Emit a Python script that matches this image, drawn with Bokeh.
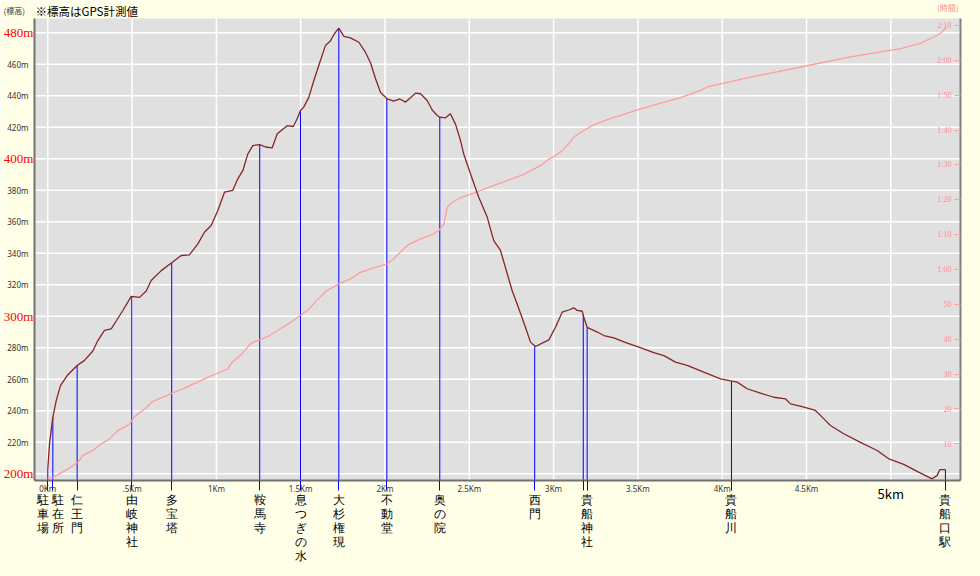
from bokeh.plotting import figure
from bokeh.models import Range1d, LinearAxis, FixedTicker, ColumnDataSource, LabelSet, Label, BoxAnnotation
from bokeh.embed import file_html
from bokeh.resources import INLINE

# ---------------- data ----------------
elev_km = [0.000, 0.010, 0.030, 0.050, 0.075, 0.115, 0.174, 0.218, 0.267, 0.297,
           0.336, 0.376, 0.406, 0.445, 0.495, 0.544, 0.584, 0.613, 0.673, 0.735,
           0.791, 0.840, 0.890, 0.929, 0.969, 1.008, 1.048, 1.097, 1.127, 1.157,
           1.186, 1.216, 1.257, 1.291, 1.331, 1.361, 1.420, 1.456, 1.479, 1.499,
           1.518, 1.548, 1.578, 1.617, 1.647, 1.677, 1.700, 1.726, 1.756, 1.795,
           1.845, 1.884, 1.914, 1.944, 1.973, 2.013, 2.052, 2.088, 2.122, 2.151,
           2.181, 2.211, 2.250, 2.280, 2.310, 2.325, 2.359, 2.388, 2.418, 2.448,
           2.467, 2.507, 2.556, 2.606, 2.645, 2.685, 2.725, 2.754, 2.794, 2.833,
           2.863, 2.893, 2.932, 2.972, 3.011, 3.051, 3.090, 3.120, 3.140, 3.170,
           3.179, 3.199, 3.259, 3.298, 3.357, 3.437, 3.506, 3.594, 3.654, 3.723,
           3.792, 3.891, 3.990, 4.059, 4.089, 4.148, 4.227, 4.306, 4.375, 4.405,
           4.474, 4.553, 4.593, 4.642, 4.721, 4.820, 4.919, 4.988, 5.077, 5.156,
           5.245, 5.275, 5.291, 5.324]
elev_m = [203.0, 219.0, 236.0, 246.5, 256.0, 262.4, 268.8, 272.0, 278.0, 284.6,
          291.0, 292.0, 297.0, 303.7, 312.6, 312.0, 316.0, 322.7, 329.0, 334.0,
          338.6, 339.0, 346.0, 353.4, 357.6, 367.0, 378.8, 380.0, 387.3, 392.6,
          403.0, 408.4, 409.0, 407.5, 407.0, 415.9, 421.0, 420.5, 425.4, 430.7,
          432.8, 439.0, 449.7, 462.4, 472.0, 475.0, 479.4, 483.0, 477.7, 476.8,
          474.0, 467.7, 461.0, 450.8, 442.3, 438.0, 436.6, 438.0, 436.0, 438.7,
          441.7, 441.3, 437.0, 431.0, 427.5, 426.4, 426.0, 428.6, 422.0, 411.6,
          403.0, 390.5, 375.6, 363.0, 348.0, 341.8, 327.0, 316.4, 304.8, 293.0,
          283.6, 280.8, 283.0, 285.0, 293.0, 302.6, 304.0, 305.4, 303.7, 303.2,
          299.4, 293.0, 290.0, 287.8, 286.3, 283.0, 280.4, 277.0, 275.0, 270.9,
          268.8, 264.5, 260.3, 258.8, 258.2, 254.0, 251.2, 248.6, 247.6, 244.4,
          242.7, 240.2, 236.0, 230.7, 225.4, 220.0, 214.8, 209.5, 206.0, 201.5,
          196.8, 199.0, 202.7, 202.7]

time_km = [0.000, 0.040, 0.119, 0.178, 0.208, 0.267, 0.317, 0.366, 0.415, 0.455,
           0.485, 0.514, 0.574, 0.623, 0.682, 0.751, 0.821, 0.910, 0.999, 1.068,
           1.088, 1.147, 1.206, 1.256, 1.305, 1.345, 1.440, 1.499, 1.546, 1.598,
           1.657, 1.726, 1.795, 1.855, 1.934, 2.013, 2.052, 2.102, 2.141, 2.211,
           2.280, 2.319, 2.349, 2.369, 2.399, 2.448, 2.527, 2.626, 2.725, 2.823,
           2.922, 2.962, 3.011, 3.051, 3.090, 3.120, 3.179, 3.238, 3.318, 3.416,
           3.515, 3.753, 3.871, 3.919, 4.168, 4.465, 4.761, 5.058, 5.176, 5.255,
           5.295, 5.330]
time_min = [0.0, 0.6, 2.8, 4.7, 6.7, 8.1, 10.0, 11.4, 13.8, 14.8,
            15.7, 17.8, 20.0, 22.2, 23.4, 24.8, 26.2, 28.2, 30.1, 31.5,
            33.1, 35.6, 38.9, 39.8, 40.8, 42.0, 44.8, 46.9, 48.5, 51.3,
            54.0, 55.9, 57.3, 59.2, 60.5, 61.6, 63.1, 65.5, 67.2, 68.8,
            70.0, 71.2, 73.1, 77.9, 79.3, 80.6, 81.9, 83.8, 85.5, 87.3,
            89.8, 91.3, 92.7, 94.1, 96.1, 98.0, 99.9, 101.5, 103.0, 104.5,
            106.1, 109.3, 111.4, 112.5, 115.2, 118.1, 121.0, 123.4, 124.9, 126.7,
            127.8, 129.5]

# vertical marker lines (position along route, elevation at top of line)
line_km = [0.000, 0.030, 0.174, 0.498, 0.735, 1.257, 1.499, 1.726, 2.011, 2.325,
           2.888, 3.176, 3.199, 4.055, 5.324]
line_top = [203.0, 236.0, 268.8, 312.5, 334.0, 409.0, 430.7, 483.0, 438.0, 426.4,
            280.8, 301.0, 293.0, 258.8, 202.7]

# place names
place_names = ["駐車場", "駐在所", "仁王門", "由岐神社", "多宝塔", "鞍馬寺", "息つぎの水",
               "大杉権現", "不動堂", "奥の院", "西門", "貴船神社", "貴船川", "貴船口駅"]
place_km = [0.000, 0.030, 0.174, 0.498, 0.735, 1.257, 1.499, 1.726, 2.011, 2.325,
            2.888, 3.199, 4.055, 5.324]
place_dx = [-5, 5, 0, 0, 0, 0, 0, 0, 0, 0, 0, 0, 0, 0]

elev_ticks = [200, 220, 240, 260, 280, 300, 320, 340, 360, 380, 400, 420, 440, 460, 480]
elev_tick_labels = ["200m", "220m", "240m", "260m", "280m", "300m", "320m", "340m",
                    "360m", "380m", "400m", "420m", "440m", "460m", "480m"]
elev_big = [200, 300, 400, 480]

km_ticks = [0.0, 0.5, 1.0, 1.5, 2.0, 2.5, 3.0, 3.5, 4.0, 4.5, 5.0]
km_tick_labels = ["0Km", ".5Km", "1Km", "1.5Km", "2Km", "2.5Km", "3Km", "3.5Km",
                  "4Km", "4.5Km", "5km"]

time_ticks = [10, 20, 30, 40, 50, 60, 70, 80, 90, 100, 110, 120, 130]
time_tick_labels = ["10", "20", "30", "40", "50", "1:00", "1:10", "1:20", "1:30",
                    "1:40", "1:50", "2:00", "2:10"]

# ---------------- layout / styling ----------------
BG = "#FFFFE8"
PLOT_BG = "#E0E0E0"
ELEV_COLOR = "#862626"
TIME_COLOR = "#FF9C9C"
MARK_COLOR = "#0000FF"
AXIS_COLOR = "#707070"
JP = "Noto Sans CJK JP"

# plotting area (data units) and full canvas extents
X0, X1 = -0.079, 5.413          # km at plot-area left/right edges
Y0, Y1 = 195.75, 489.1          # m at plot-area bottom/top edges
T0, T1 = -0.52, 132.0           # minutes at plot-area bottom/top edges
CX0, CX1 = -0.2805, 5.532       # km at canvas left/right
CY0, CY1 = 134.79, 500.51       # m at canvas bottom/top
CT0, CT1 = -28.06, 137.18       # minutes at canvas bottom/top

p = figure(width=980, height=576, output_backend="svg", toolbar_location=None,
           x_range=Range1d(CX0, CX1), y_range=Range1d(CY0, CY1),
           background_fill_color=BG, border_fill_color=BG, outline_line_color=None,
           min_border=0)
p.extra_y_ranges = {"time": Range1d(CT0, CT1)}
p.grid.visible = False

# plot area background
p.add_layout(BoxAnnotation(left=X0, right=X1, bottom=Y0, top=Y1, fill_color=PLOT_BG,
                           fill_alpha=1.0, line_color=None, level="image"))

# grid lines (from tick lists)
p.segment(x0=km_ticks, y0=[Y0] * len(km_ticks), x1=km_ticks, y1=[Y1] * len(km_ticks),
          line_color="white", line_width=1.5)
p.segment(x0=[X0] * len(elev_ticks), y0=elev_ticks, x1=[X1] * len(elev_ticks), y1=elev_ticks,
          line_color="white", line_width=1.5)

# bottom axis: km ticks + landmark stubs as minor ticks
xax = p.xaxis[0]
xax.fixed_location = Y0
xax.bounds = (X0, X1)
xax.ticker = FixedTicker(ticks=km_ticks, minor_ticks=line_km)
xax.major_label_overrides = {k: (lab if k != 5.0 else "") for k, lab in zip(km_ticks, km_tick_labels)}
xax.major_tick_line_color = None
xax.major_tick_in = 0
xax.major_tick_out = 0
xax.minor_tick_line_color = MARK_COLOR
xax.minor_tick_in = 0
xax.minor_tick_out = 10
xax.axis_line_color = AXIS_COLOR
xax.axis_line_width = 2
xax.major_label_text_font = "Noto Sans"
xax.major_label_text_font_size = "8px"
xax.major_label_text_color = "#333333"
xax.major_label_standoff = -7

# left axis
yax = p.yaxis[0]
yax.fixed_location = X0
yax.bounds = (Y0, Y1)
yax.ticker = FixedTicker(ticks=elev_ticks)
yax.major_label_overrides = {t: ("" if t in elev_big else lab) for t, lab in zip(elev_ticks, elev_tick_labels)}
yax.major_tick_line_color = None
yax.major_tick_in = 0
yax.major_tick_out = 0
yax.minor_tick_line_color = None
yax.axis_line_color = AXIS_COLOR
yax.axis_line_width = 2
yax.major_label_text_font = "Noto Sans"
yax.major_label_text_font_size = "8px"
yax.major_label_text_color = "#333333"
yax.major_label_standoff = 6

# right axis (time)
rax = LinearAxis(y_range_name="time", fixed_location=X1, bounds=(T0, T1),
                 ticker=FixedTicker(ticks=time_ticks),
                 major_label_overrides={t: "" for t in time_ticks},
                 major_tick_in=6, major_tick_out=0, major_tick_line_color=TIME_COLOR,
                 minor_tick_line_color=None, axis_line_color="#808080", axis_line_width=2,
                 major_label_standoff=0)
p.add_layout(rax, "right")

# glyphs
p.segment(x0=line_km, y0=line_top, x1=line_km, y1=[Y0] * len(line_km),
          line_color=MARK_COLOR, line_width=1)
p.line(time_km, time_min, y_range_name="time", line_color=TIME_COLOR, line_width=1.3)
p.line(elev_km, elev_m, line_color=ELEV_COLOR, line_width=1.3)

# big red elevation labels
big_src = ColumnDataSource(dict(y=elev_big, text=[f"{v}m" for v in elev_big]))
p.add_layout(LabelSet(x=X0, y="y", text="text", source=big_src, x_offset=-1,
                      text_align="right", text_baseline="middle",
                      text_font=JP, text_font_size="13px", text_color="#FF0000"))

# time labels (inside plot, right side)
time_src = ColumnDataSource(dict(t=time_ticks, text=time_tick_labels))
p.add_layout(LabelSet(x=X1, y="t", text="text", y_range_name="time", x_offset=-9,
                      source=time_src, text_align="right", text_baseline="middle",
                      text_font="Noto Sans", text_font_size="8px", text_color="#FF8C8C"))

# place names (vertical, below the axis)
place_src = ColumnDataSource(dict(x=place_km, dx=place_dx,
                                  text=["\n".join(n) for n in place_names]))
p.add_layout(LabelSet(x="x", y=Y0, y_offset=-13, x_offset="dx", text="text",
                      source=place_src, text_align="center", text_baseline="top",
                      text_font=JP, text_font_size="12px", text_color="black",
                      text_line_height=1.0))

# 5km big label
p.add_layout(Label(x=5.0, y=Y0, y_offset=-4, text=km_tick_labels[-1],
                   text_align="center", text_baseline="top", text_font=JP,
                   text_font_size="13px", text_color="black"))

# header texts
p.add_layout(Label(x=X0, y=Y1, x_offset=1, y_offset=7, text="※標高はGPS計測値",
                   text_align="left", text_baseline="middle", text_font=JP,
                   text_font_size="11.5px", text_color="black"))
p.add_layout(Label(x=X0, y=Y1, x_offset=-31, y_offset=8, text="(標高)",
                   text_align="left", text_baseline="middle", text_font=JP,
                   text_font_size="8px", text_color="#333333"))
p.add_layout(Label(x=X1, y=Y1, x_offset=-2, y_offset=11, text="(時間)",
                   text_align="right", text_baseline="middle", text_font=JP,
                   text_font_size="8px", text_color="#FF8C8C"))

open("out.html", "w").write(file_html(p, INLINE))
